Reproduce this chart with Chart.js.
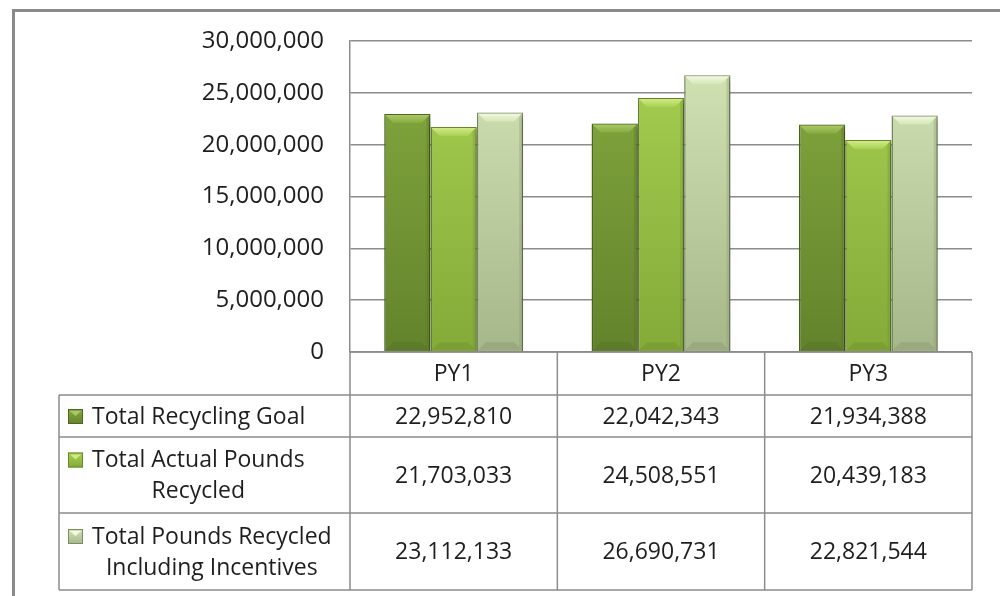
<!DOCTYPE html>
<html>
<head>
<meta charset="utf-8">
<script src="https://cdn.jsdelivr.net/npm/chart.js@4/dist/chart.umd.min.js"></script>
<style>
  body { margin: 0; background: #fff; }
  #wrap { width: 1000px; height: 596px; }
</style>
</head>
<body>
<div id="wrap"><canvas id="myChart" width="1000" height="596"></canvas></div>
<script>
// chart data
const categories = ["PY1", "PY2", "PY3"];
const seriesNames = ["Total Recycling Goal", "Total Actual Pounds Recycled", "Total Pounds Recycled Including Incentives"];
const rowLabelLines = [["Total Recycling Goal"], ["Total Actual Pounds", "Recycled"], ["Total Pounds Recycled", "Including Incentives"]];
const recyclingGoal = [22952810, 22042343, 21934388];
const actualPounds = [21703033, 24508551, 20439183];
const poundsWithIncentives = [23112133, 26690731, 22821544];
const yMin = 0, yMax = 30000000, yStep = 5000000;

const FONT = "'Open Sans', sans-serif";
const TEXT = "#1e1e1e";
const LINE = "#8c8c8c";

// colours per series: top, bottom, border, highlight
const palette = [
  { top: "#86ab40", bottom: "#63832b", border: "#4d681f", hi: "#aac866", lo: "#55742a" },
  { top: "#a8d152", bottom: "#84aa38", border: "#66872a", hi: "#d0ea86", lo: "#6f9330" },
  { top: "#d4e6b6", bottom: "#a6b78a", border: "#7d8c64", hi: "#f2f9e2", lo: "#8d9c74" }
];

function fmt(v) { return v.toLocaleString("en-US"); }

function barFill(i) {
  return function (ctx) {
    const area = ctx.chart.chartArea;
    if (!area) return palette[i].top;
    const g = ctx.chart.ctx.createLinearGradient(0, area.top, 0, area.bottom);
    g.addColorStop(0, palette[i].top);
    g.addColorStop(1, palette[i].bottom);
    return g;
  };
}

const frame = {
  id: "frame",
  beforeDraw(chart) {
    const c = chart.ctx;
    c.save();
    c.strokeStyle = "#8a8a8a";
    c.lineWidth = 3;
    c.beginPath();
    c.moveTo(13.5, 596);
    c.lineTo(13.5, 10.5);
    c.lineTo(1000, 10.5);
    c.stroke();
    c.restore();
  }
};

const barShadow = {
  id: "barShadow",
  beforeDatasetsDraw(chart) {
    const c = chart.ctx;
    c.save();
    c.shadowColor = "rgba(0,0,0,0.35)";
    c.shadowBlur = 5;
    c.shadowOffsetX = 2;
    c.shadowOffsetY = 3;
  },
  afterDatasetsDraw(chart) {
    chart.ctx.restore();
    // bevel on each bar
    const c = chart.ctx;
    chart.data.datasets.forEach((ds, i) => {
      const meta = chart.getDatasetMeta(i);
      meta.data.forEach(bar => {
        const l = bar.x - bar.width / 2 + 1, r = bar.x + bar.width / 2 - 1;
        const t = bar.y + 1, b = bar.base - 1;
        const d = 8;
        c.save();
        const hg = c.createLinearGradient(0, t, 0, t + d);
        hg.addColorStop(0, palette[i].hi);
        hg.addColorStop(1, palette[i].top);
        c.fillStyle = hg;
        c.beginPath();
        c.moveTo(l, t); c.lineTo(r, t); c.lineTo(r - d, t + d); c.lineTo(l + d, t + d); c.closePath();
        c.fill();
        c.fillStyle = palette[i].lo;
        c.globalAlpha = 0.5;
        c.beginPath();
        c.moveTo(l, b); c.lineTo(r, b); c.lineTo(r - d, b - d); c.lineTo(l + d, b - d); c.closePath();
        c.fill();
        c.globalAlpha = 0.35;
        c.beginPath();
        c.moveTo(r, t); c.lineTo(r, b); c.lineTo(r - 3, b - 3); c.lineTo(r - 3, t + 3); c.closePath();
        c.fill();
        c.restore();
      });
    });
  }
};

const dataTable = {
  id: "dataTable",
  afterDraw(chart) {
    const c = chart.ctx;
    const x = chart.scales.x;
    const n = categories.length;
    const half = (x.getPixelForValue(1) - x.getPixelForValue(0)) / 2;
    const cols = [x.getPixelForValue(0) - half];
    for (let i = 0; i < n; i++) cols.push(x.getPixelForValue(i) + half);
    const tableLeft = 59;
    const rows = [chart.chartArea.bottom, 395, 437, 513, 590];
    c.save();
    c.strokeStyle = LINE;
    c.lineWidth = 1.5;
    c.beginPath();
    c.moveTo(cols[0], rows[0]); c.lineTo(cols[n], rows[0]);
    for (let r = 1; r < rows.length; r++) {
      c.moveTo(tableLeft, rows[r]); c.lineTo(cols[n], rows[r]);
    }
    cols.forEach(cx => { c.moveTo(cx, rows[0]); c.lineTo(cx, rows[rows.length - 1]); });
    c.moveTo(tableLeft, rows[1]); c.lineTo(tableLeft, rows[rows.length - 1]);
    c.stroke();

    c.fillStyle = TEXT;
    c.font = "23px " + FONT;
    c.textAlign = "center";
    c.textBaseline = "middle";
    categories.forEach((cat, i) => c.fillText(cat, x.getPixelForValue(i), (rows[0] + rows[1]) / 2 + 1));

    const series = [recyclingGoal, actualPounds, poundsWithIncentives];
    series.forEach((vals, s) => {
      const top = rows[s + 1], bot = rows[s + 2];
      const mid = (top + bot) / 2;
      vals.forEach((v, i) => {
        c.fillStyle = TEXT;
        c.fillText(fmt(v), x.getPixelForValue(i), mid + 1);
      });
      const lines = rowLabelLines[s];
      const lh = 31;
      const y0 = mid - (lines.length - 1) * lh / 2;
      c.textAlign = "left";
      const textX = 92;
      const w0 = c.measureText(lines[0]).width;
      c.fillText(lines[0], textX, y0 + 1);
      c.textAlign = "center";
      for (let k = 1; k < lines.length; k++) c.fillText(lines[k], textX + w0 / 2, y0 + k * lh + 1);
      // legend key
      const kx = 68, ky = y0 - 7, ks = 15;
      const g = c.createLinearGradient(0, ky, 0, ky + ks);
      g.addColorStop(0, palette[s].top);
      g.addColorStop(1, palette[s].bottom);
      c.fillStyle = g;
      c.fillRect(kx, ky, ks, ks);
      c.fillStyle = palette[s].hi;
      c.beginPath();
      c.moveTo(kx + 2, ky + 2); c.lineTo(kx + ks - 2, ky + 2); c.lineTo(kx + ks / 2, ky + 7); c.closePath();
      c.fill();
      c.strokeStyle = palette[s].border;
      c.lineWidth = 1;
      c.strokeRect(kx + 0.5, ky + 0.5, ks - 1, ks - 1);
    });
    c.restore();
  }
};

const ctx = document.getElementById("myChart").getContext("2d");
new Chart(ctx, {
  type: "bar",
  data: {
    labels: categories,
    datasets: [
      { label: seriesNames[0], data: recyclingGoal, backgroundColor: barFill(0), borderColor: palette[0].border, borderWidth: 1.5 },
      { label: seriesNames[1], data: actualPounds, backgroundColor: barFill(1), borderColor: palette[1].border, borderWidth: 1.5 },
      { label: seriesNames[2], data: poundsWithIncentives, backgroundColor: barFill(2), borderColor: palette[2].border, borderWidth: 1.5 }
    ]
  },
  options: {
    responsive: false,
    animation: false,
    events: [],
    layout: { padding: { left: 0, top: 41, right: 28, bottom: 244 } },
    datasets: { bar: { categoryPercentage: 0.67, barPercentage: 1.0 } },
    plugins: { legend: { display: false }, tooltip: { enabled: false } },
    scales: {
      x: { display: false },
      y: {
        min: yMin,
        max: yMax,
        afterFit(scale) { scale.width = 350; },
        border: { display: true, color: LINE, width: 1.5 },
        grid: { color: LINE, lineWidth: 1.5, drawTicks: false },
        ticks: {
          stepSize: yStep,
          padding: 26,
          color: TEXT,
          font: { family: FONT, size: 24 },
          callback: v => fmt(v)
        }
      }
    }
  },
  plugins: [frame, barShadow, dataTable]
});
</script>
</body>
</html>
